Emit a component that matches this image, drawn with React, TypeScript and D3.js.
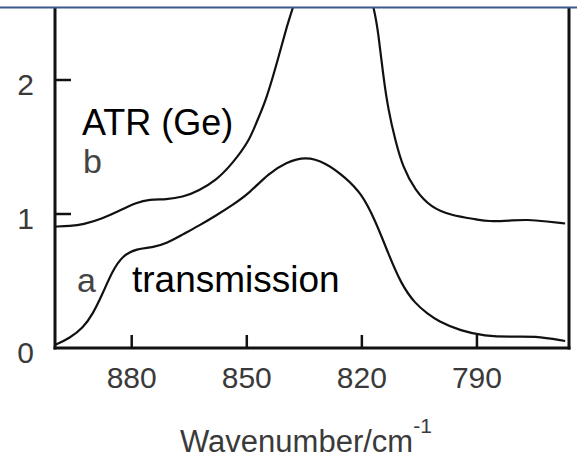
import React from "react";
import * as d3 from "d3";

// Wavenumber (cm-1) and absorbance readings
const atrWavenumber = [900, 896.1, 892.7, 887.6, 883.1, 878.7, 875.4, 871.0, 866.8, 862.4, 858.0, 853.9, 849.4, 847.6, 845.0, 841.7, 839.6, 838.0, 834.5, 830.5, 827.0, 823.5, 819.5, 816.8, 815.7, 814.4, 813.1, 811.3, 809.3, 806.1, 802.0, 796.8, 789.8, 787.2, 781.3, 776.8, 771.7, 767.0];
const atrValue = [0.906, 0.910, 0.921, 0.966, 1.026, 1.086, 1.109, 1.109, 1.124, 1.176, 1.251, 1.371, 1.543, 1.678, 1.843, 2.172, 2.397, 2.539, 2.85, 3.05, 3.12, 3.05, 2.8, 2.539, 2.352, 2.022, 1.775, 1.551, 1.348, 1.176, 1.049, 0.989, 0.959, 0.944, 0.951, 0.959, 0.944, 0.929];

const transWavenumber = [900, 896.1, 892.7, 890.1, 887.6, 885.0, 882.4, 878.7, 874.6, 871.0, 866.8, 862.4, 858.0, 853.9, 849.4, 844.3, 839.8, 834.7, 829.5, 824.3, 820.1, 816.5, 813.1, 809.8, 806.1, 802.8, 800.2, 794.2, 788.0, 781.3, 775.0, 767.0];
const transValue = [0.022, 0.075, 0.150, 0.255, 0.404, 0.577, 0.689, 0.742, 0.749, 0.779, 0.846, 0.914, 0.989, 1.064, 1.154, 1.303, 1.385, 1.43, 1.385, 1.273, 1.154, 0.951, 0.704, 0.479, 0.330, 0.255, 0.202, 0.127, 0.090, 0.082, 0.090, 0.052];

const xTicks = [880, 850, 820, 790];
const yTicks = [0, 1, 2];

export default function App() {
  const W = 577, H = 465;
  const left = 55, right = 569, bottom = 348, top = 8;
  const x = d3.scaleLinear().domain([900, 766]).range([left, right]);
  const y = d3.scaleLinear().domain([0, 1]).range([bottom, 214]);

  const line = d3
    .line<[number, number]>()
    .x((d) => x(d[0]))
    .y((d) => y(d[1]))
    .curve(d3.curveBasis);

  const atr = line(atrWavenumber.map((w, i) => [w, atrValue[i]] as [number, number])) || "";
  const trans = line(transWavenumber.map((w, i) => [w, transValue[i]] as [number, number])) || "";

  const font = "'Liberation Sans', Arial, Helvetica, sans-serif";

  return (
    <svg width={W} height={H} style={{ position: "absolute", left: 0, top: 0, background: "#fff" }} fontFamily={font}>
      <defs>
        <clipPath id="plot">
          <rect x={left} y={top} width={right - left} height={bottom - top} />
        </clipPath>
      </defs>
      <g clipPath="url(#plot)" fill="none" stroke="#111" strokeWidth={2.2}>
        <path d={atr} />
        <path d={trans} />
      </g>
      {/* axes */}
      <g stroke="#111" strokeWidth={3} fill="none">
        <line x1={left} y1={top} x2={left} y2={bottom + 1.5} />
        <line x1={right} y1={top} x2={right} y2={bottom + 1.5} />
        <line x1={left - 1.5} y1={bottom} x2={right + 1.5} y2={bottom} />
      </g>
      <g stroke="#111" strokeWidth={2.5}>
        {yTicks.filter((t) => t > 0).map((t) => (
          <line key={t} x1={left} x2={left + 16} y1={y(t)} y2={y(t)} />
        ))}
        {xTicks.map((t) => (
          <line key={t} x1={x(t)} x2={x(t)} y1={bottom} y2={bottom - 13} />
        ))}
      </g>
      <line x1={0} x2={W} y1={7.5} y2={7.5} stroke="#3a5a8c" strokeWidth={2} />
      {/* tick labels */}
      <g fill="#3a3a3a" fontSize={30}>
        {yTicks.map((t) => (
          <text key={t} x={34} y={y(t) + 15} textAnchor="end">{t}</text>
        ))}
        {xTicks.map((t) => (
          <text key={t} x={x(t)} y={388} textAnchor="middle">{t}</text>
        ))}
        <text x={180} y={452} fontSize={31}>
          Wavenumber/cm
          <tspan fontSize={21} dy={-19}>-1</tspan>
        </text>
      </g>
      {/* annotations */}
      <text x={82} y={135} fontSize={36} fill="#000">ATR (Ge)</text>
      <text x={83} y={173} fontSize={34} fill="#444">b</text>
      <text x={77} y={292} fontSize={34} fill="#444">a</text>
      <text x={132} y={292} fontSize={37} fill="#000">transmission</text>
    </svg>
  );
}
